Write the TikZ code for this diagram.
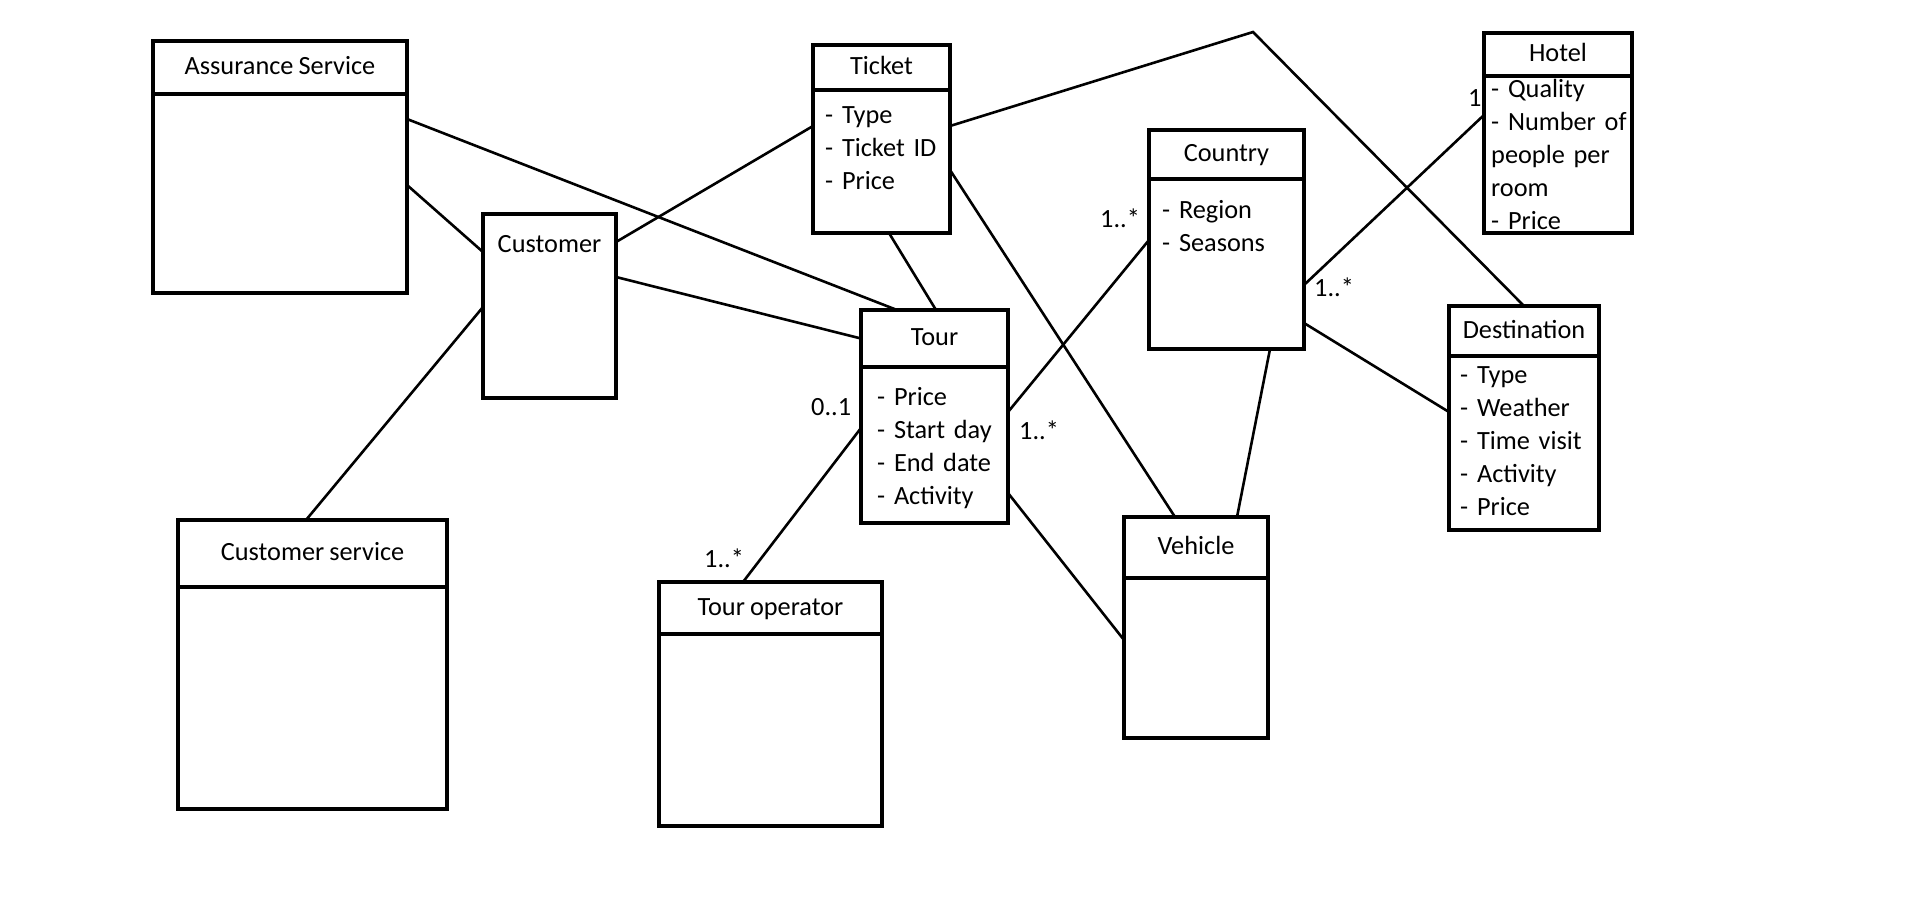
\documentclass[tikz,border=0pt]{standalone}
\usepackage{fontspec}
\setmainfont{Carlito}[WordSpace=0.85]
\usepackage{tikz}
\usetikzlibrary{positioning}

\begin{document}
\begin{tikzpicture}[
  x=1pt, y=-1pt,
  font=\fontsize{26.3pt}{33pt}\selectfont,
  cls/.style={draw, line width=3.2pt, outer sep=0pt, inner sep=0pt, text height=18pt, text depth=4pt},
  hdr/.style={cls, anchor=north west},
  attr/.style={anchor=base west, inner sep=0pt, text width=170pt, align=left},
  mult/.style={anchor=base west, inner sep=0pt},
  assoc/.style={line width=2.6pt},
]
\useasboundingbox[fill=white] (0,0) rectangle (1914,903);

% classes
\node[hdr, minimum width=254pt, minimum height=53pt] (ash) at (153,41) {Assurance Service};
\node[cls, minimum width=254pt, minimum height=199pt, below=0pt of ash] (asb) {};
\node[hdr, minimum width=133pt, minimum height=184pt] (cust) at (483,214) {};
\node[anchor=base, inner sep=0pt] (custt) at ([yshift=-38pt]cust.north) {Customer};
\node[hdr, minimum width=269pt, minimum height=67pt] (csh) at (178,520) {Customer service};
\node[cls, minimum width=269pt, minimum height=222pt, below=0pt of csh] (csb) {};
\node[hdr, minimum width=137pt, minimum height=45pt] (tkh) at (813,45) {Ticket};
\node[cls, minimum width=137pt, minimum height=143pt, below=0pt of tkh] (tkb) {};
\node[hdr, minimum width=147pt, minimum height=57pt] (trh) at (861,310) {Tour};
\node[cls, minimum width=147pt, minimum height=156pt, below=0pt of trh] (trb) {};
\node[hdr, minimum width=223pt, minimum height=52pt] (toh) at (659,582) {Tour operator};
\node[cls, minimum width=223pt, minimum height=192pt, below=0pt of toh] (tob) {};
\node[hdr, minimum width=155pt, minimum height=49pt] (coh) at (1149,130) {Country};
\node[cls, minimum width=155pt, minimum height=170pt, below=0pt of coh] (cob) {};
\node[hdr, minimum width=144pt, minimum height=61pt] (vhh) at (1124,517) {Vehicle};
\node[cls, minimum width=144pt, minimum height=160pt, below=0pt of vhh] (vhb) {};
\node[hdr, minimum width=148pt, minimum height=43pt] (hoh) at (1484,33) {Hotel};
\node[cls, minimum width=148pt, minimum height=157pt, below=0pt of hoh] (hob) {};
\node[hdr, minimum width=150pt, minimum height=50pt] (dsh) at (1449,306) {Destination};
\node[cls, minimum width=150pt, minimum height=174pt, below=0pt of dsh] (dsb) {};

% attributes
\node[attr] (tka) at ([xshift=12pt,yshift=-33pt]tkb.north west) {- Type\\- Ticket ID\\- Price};
\node[attr] (tra) at ([xshift=16pt,yshift=-38pt]trb.north west) {- Price\\- Start day\\- End date\\- Activity};
\node[attr] (coa) at ([xshift=13pt,yshift=-39pt]cob.north west) {- Region\\- Seasons};
\node[attr] (hoa) at ([xshift=7pt,yshift=-21pt]hob.north west) {- Quality\\- Number of\\people per\\room\\- Price};
\node[attr] (dsa) at ([xshift=11pt,yshift=-27pt]dsb.north west) {- Type\\- Weather\\- Time visit\\- Activity\\- Price};

% associations
\coordinate (peak) at (1253,32);
\draw[assoc] ([yshift=-25pt]asb.north east) -- ([xshift=36pt]trh.north west);
\draw[assoc] ([yshift=-91pt]asb.north east) -- ([yshift=-38pt]cust.north west);
\draw[assoc] ([yshift=-93pt]cust.north west) -- ([xshift=128pt]csh.north west);
\draw[assoc] ([yshift=-28pt]cust.north east) -- ([yshift=-36pt]tkb.north west);
\draw[assoc] ([yshift=-63pt]cust.north east) -- (trh.west);
\draw[assoc] ([yshift=-36pt]tkb.north east) -- (peak) -- (dsh.north);
\draw[assoc] ([yshift=-80pt]tkb.north east) -- ([xshift=51pt]vhh.north west);
\draw[assoc] ([xshift=76pt]tkb.south west) -- ([xshift=75pt]trh.north west);
\draw[assoc] ([yshift=-45pt]trb.north east) -- ([yshift=-61pt]cob.north west);
\draw[assoc] ([yshift=-61pt]trb.north west) -- ([xshift=84pt]toh.north west);
\draw[assoc] ([yshift=-126pt]trb.north east) -- ([yshift=-62pt]vhb.north west);
\draw[assoc] ([yshift=-106pt]cob.north east) -- ([yshift=-39pt]hob.north west);
\draw[assoc] ([yshift=-144pt]cob.north east) -- ([yshift=-56pt]dsb.north west);
\draw[assoc] ([xshift=121pt]cob.south west) -- ([xshift=113pt]vhh.north west);

% multiplicities
\node[mult] (m1) at (811,415) {0..1};
\node[mult] (m2) at (1019,439) {1..*};
\node[mult] (m3) at (1100,227) {1..*};
\node[mult] (m4) at (1314,296) {1..*};
\node[mult] (m5) at (1468,106) {1};
\node[mult] (m6) at (704,567) {1..*};
\end{tikzpicture}
\end{document}
